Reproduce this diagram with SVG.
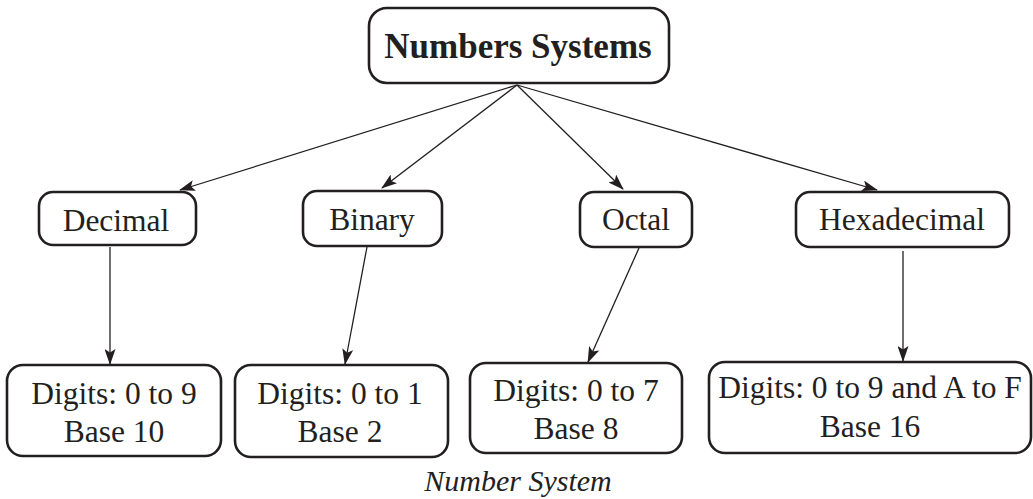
<svg xmlns="http://www.w3.org/2000/svg" width="1033" height="499" viewBox="0 0 1033 499" font-family="'Liberation Serif', 'DejaVu Serif', serif">
<defs>
<marker id="ah" markerUnits="userSpaceOnUse" markerWidth="16" markerHeight="11" refX="15" refY="5.5" orient="auto">
<path d="M0,0 L16,5.5 L0,11 L3.5,5.5 z" fill="#231f20"/>
</marker>
<style>
.box{fill:#fff;stroke:#231f20;stroke-width:2.6}
text{font-family:'Liberation Serif','DejaVu Serif',serif;fill:#231f20;text-anchor:middle;font-size:31.5px}
.root{font-weight:bold;font-size:35px}
.cap{font-style:italic;font-size:30px}
.c{stroke:#231f20;stroke-width:1.3;fill:none;marker-end:url(#ah)}
</style>
</defs>
<rect width="1033" height="499" fill="#fff"/>
<g id="connectors">
<line class="c" x1="517" y1="85" x2="180" y2="190"/>
<line class="c" x1="517" y1="85" x2="382" y2="188"/>
<line class="c" x1="517" y1="85" x2="623" y2="189"/>
<line class="c" x1="517" y1="85" x2="877" y2="190"/>
<line class="c" x1="110" y1="247" x2="110" y2="364"/>
<line class="c" x1="367" y1="247" x2="345" y2="364"/>
<line class="c" x1="639" y1="248" x2="588" y2="362"/>
<line class="c" x1="903" y1="251" x2="903" y2="361"/>
</g>
<g id="root">
<rect class="box" x="369" y="8" width="300" height="75" rx="18"/>
<text class="root" x="518" y="58">Numbers Systems</text>
</g>
<g id="decimal">
<rect class="box" x="39" y="192" width="157" height="53" rx="14"/>
<text x="116" y="231">Decimal</text>
</g>
<g id="binary">
<rect class="box" x="303" y="191" width="139" height="55" rx="14"/>
<text x="372" y="230">Binary</text>
</g>
<g id="octal">
<rect class="box" x="580" y="192" width="112" height="55" rx="14"/>
<text x="636" y="230">Octal</text>
</g>
<g id="hexadecimal">
<rect class="box" x="796" y="192" width="213" height="55" rx="14"/>
<text x="902" y="230">Hexadecimal</text>
</g>
<g id="decimal-info">
<rect class="box" x="7" y="365" width="214" height="91" rx="16"/>
<text x="114" y="404">Digits: 0 to 9</text>
<text x="114" y="442">Base 10</text>
</g>
<g id="binary-info">
<rect class="box" x="235" y="365" width="213" height="92" rx="16"/>
<text x="340" y="404">Digits: 0 to 1</text>
<text x="340" y="442">Base 2</text>
</g>
<g id="octal-info">
<rect class="box" x="470" y="363" width="212" height="90" rx="16"/>
<text x="576" y="401">Digits: 0 to 7</text>
<text x="576" y="439">Base 8</text>
</g>
<g id="hex-info">
<rect class="box" x="709" y="362" width="322" height="91" rx="16"/>
<text x="870" y="398">Digits: 0 to 9 and A to F</text>
<text x="870" y="437">Base 16</text>
</g>
<text class="cap" x="518" y="491">Number System</text>
</svg>
